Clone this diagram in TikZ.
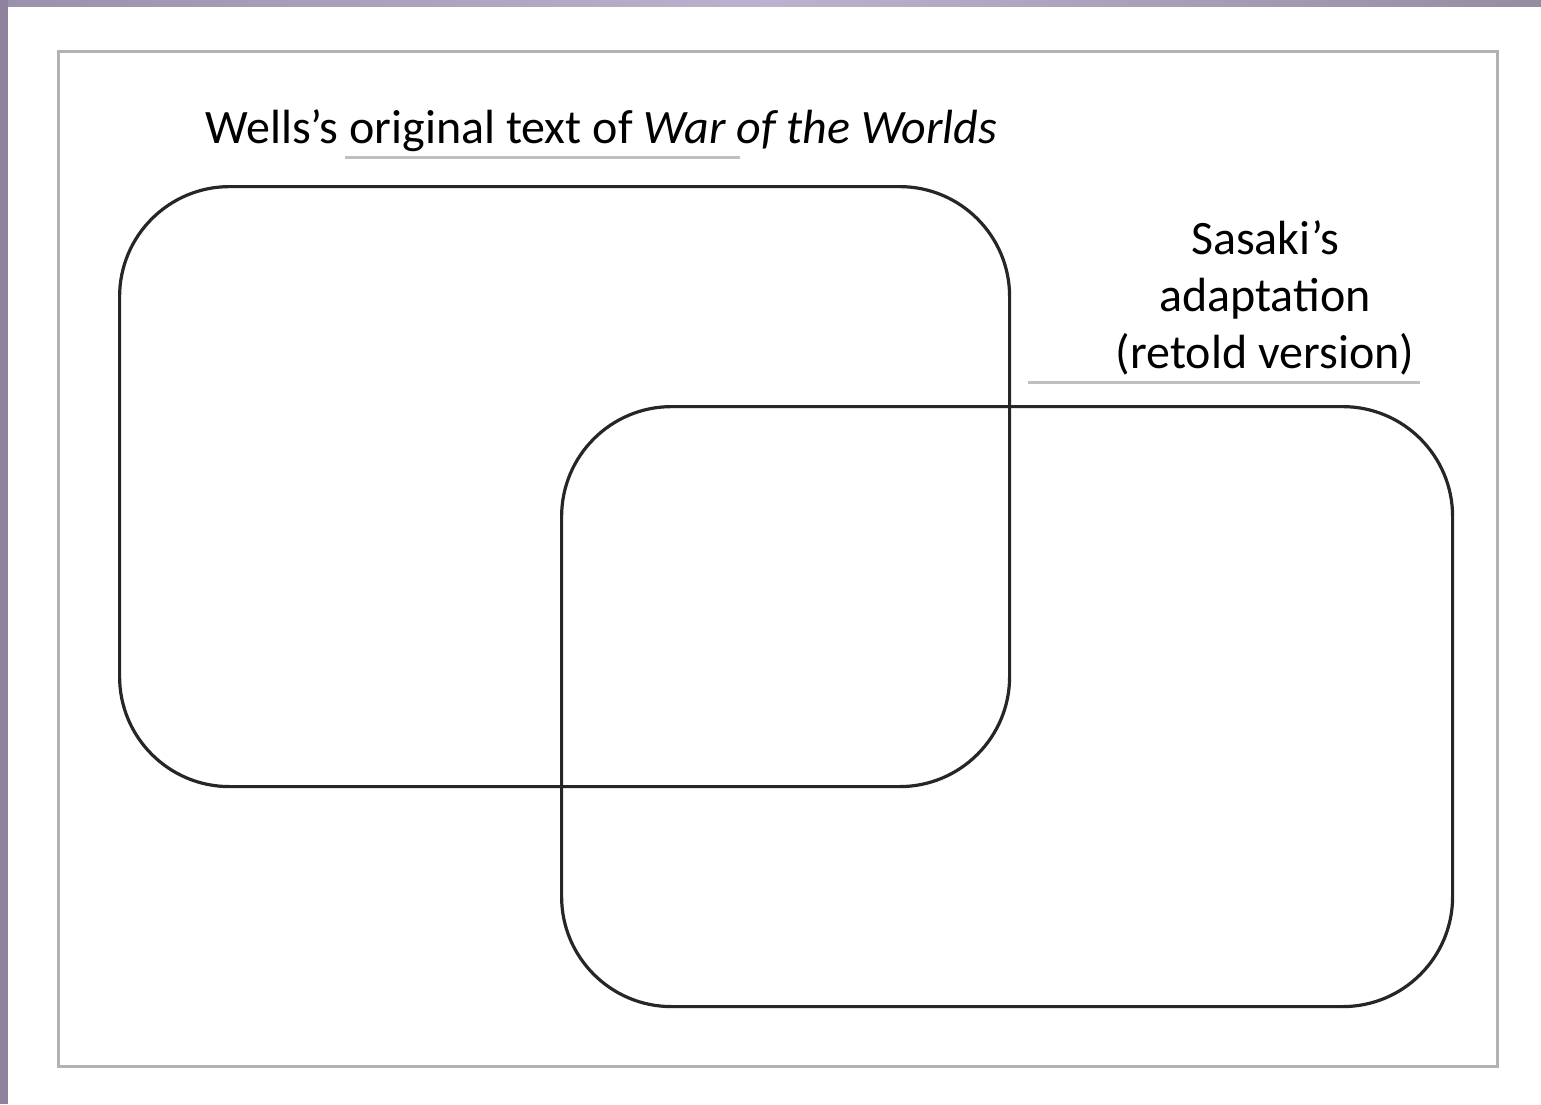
\documentclass[tikz,border=0pt]{standalone}
\usepackage{fontspec}
\setmainfont{Carlito}
\definecolor{stripL}{RGB}{142,130,157}
\definecolor{stripT}{RGB}{155,145,172}
\definecolor{stripM}{RGB}{188,178,207}
\definecolor{stripR}{RGB}{150,140,162}
\begin{document}
\begin{tikzpicture}[x=1pt,y=-1pt,
  venn/.style={draw=black!85,line width=3.2pt,rounded corners=110pt},
  frame/.style={draw=black!30,line width=3pt},
  rule/.style={draw=black!25,line width=3pt},
  lbl/.style={font=\fontsize{48}{57}\selectfont,text=black,align=center,inner sep=0pt}]
\useasboundingbox (0,0) rectangle (1541,1104);
\fill[white] (0,0) rectangle (1541,1104);
\shade[left color=stripT,right color=stripR,middle color=stripM] (0,0) rectangle (1541,6);
\fill[stripL] (0,0) rectangle (8,1104);
\draw[frame] (58,51) rectangle (1497,1066);
\node[venn,minimum width=890pt,minimum height=600pt,anchor=north west] (wells) at (118,185) {};
\node[venn,minimum width=891pt,minimum height=600pt,anchor=north west] (sasaki) at (560,405) {};
\node[lbl,anchor=base west] (t1) at (205,143) {Wells’s original text of \textit{War of the Worlds}};
\node[lbl,anchor=center] (t2) at (1265,298) {Sasaki’s\\adaptation\\ (retold version)};
\coordinate (r1a) at (345,157); \coordinate (r1b) at (740,157);
\coordinate (r2a) at (1028,382); \coordinate (r2b) at (1420,382);
\draw[rule] (r1a) -- (r1b);
\draw[rule] (r2a) -- (r2b);
\end{tikzpicture}
\end{document}
